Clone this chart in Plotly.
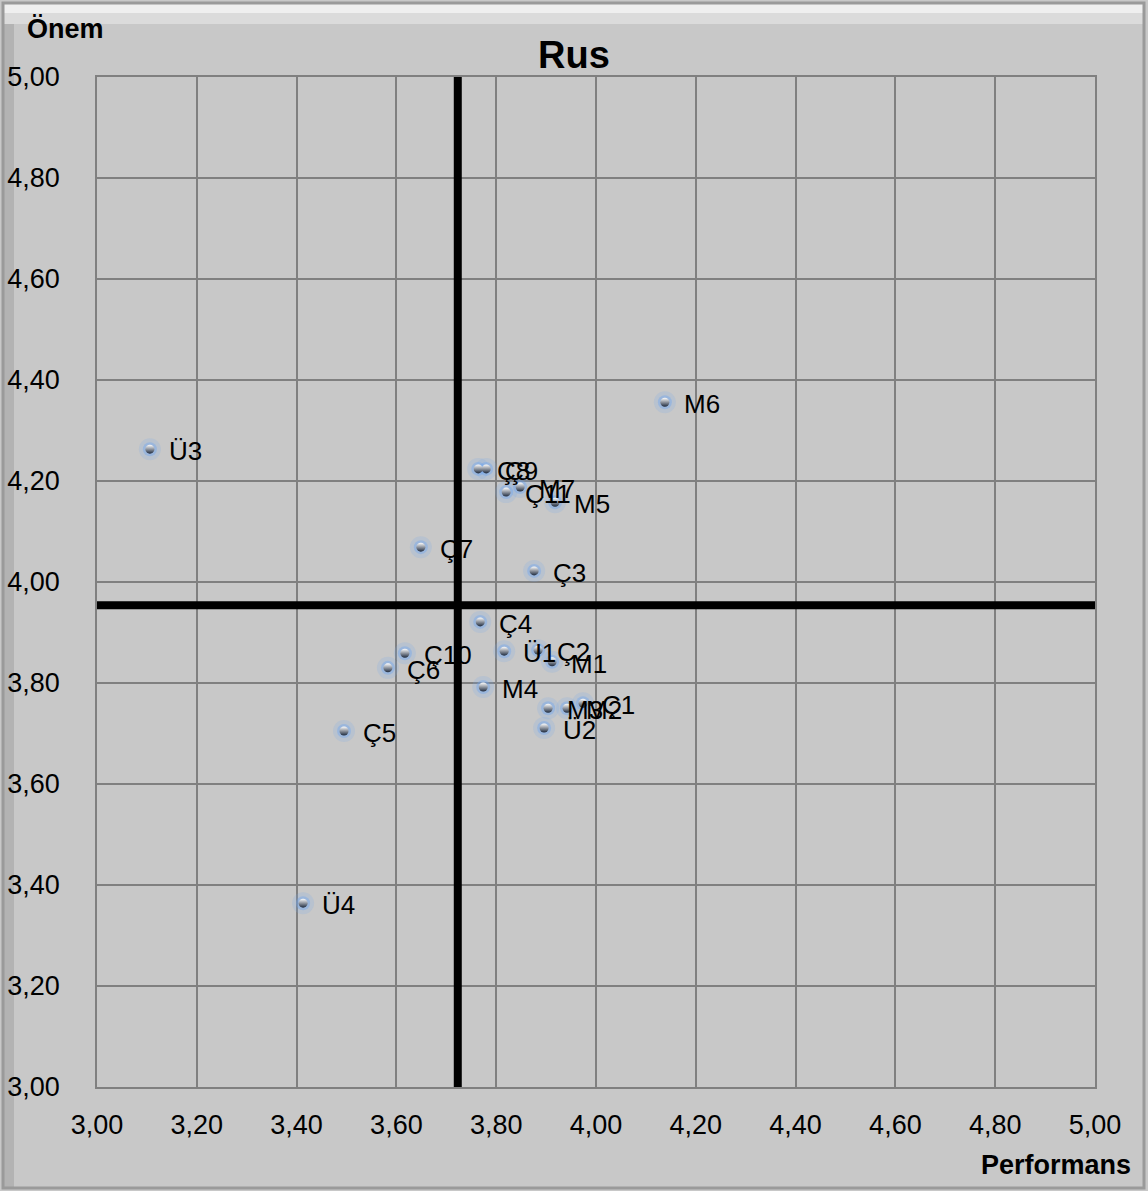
import plotly.graph_objects as go

# Data (Performans = x, Önem = y)
labels = ["Ü3", "M6", "Ç8", "Ç9", "Ç11", "M7", "M5", "Ç7", "Ç3", "Ç4", "Ü1", "Ç2", "M1",
          "Ç10", "Ç6", "M4", "M3", "M2", "Ç1", "Ü2", "Ç5", "Ü4"]
performans = [3.106, 4.138, 3.764, 3.780, 3.820, 3.848, 3.918, 3.649, 3.876, 3.768, 3.816, 3.884, 3.912,
              3.617, 3.583, 3.774, 3.904, 3.942, 3.974, 3.896, 3.495, 3.413]
onem = [4.263, 4.356, 4.224, 4.224, 4.178, 4.188, 4.158, 4.069, 4.022, 3.921, 3.863, 3.865, 3.842,
        3.859, 3.830, 3.792, 3.750, 3.750, 3.760, 3.711, 3.705, 3.364]
mean_performans = 3.723
mean_onem = 3.954

title_text = "Rus"
x_title = "Performans"
y_title = "Önem"
axis_min, axis_max, axis_step = 3.0, 5.0, 0.2

FONT = "Liberation Sans"
BG = "#c8c8c8"
GRID = "#808080"

fig = go.Figure()

# glow
fig.add_trace(go.Scatter(x=performans, y=onem, mode="markers", hoverinfo="skip",
                         marker=dict(size=22, color="rgba(120,170,235,0.20)", line=dict(width=0))))
fig.add_trace(go.Scatter(x=performans, y=onem, mode="markers", hoverinfo="skip",
                         marker=dict(size=14, color="rgba(110,165,240,0.40)", line=dict(width=0))))
# sphere dot
fig.add_trace(go.Scatter(x=performans, y=onem, mode="markers", text=labels,
                         marker=dict(size=9, color="#ffffff",
                                     gradient=dict(type="vertical", color="#1e2a3e"),
                                     line=dict(width=0))))

# reference lines at mean values
fig.add_shape(type="line", x0=mean_performans, x1=mean_performans, y0=axis_min, y1=axis_max,
              xref="x", yref="y", line=dict(color="black", width=8))
fig.add_shape(type="line", x0=axis_min, x1=axis_max, y0=mean_onem, y1=mean_onem,
              xref="x", yref="y", line=dict(color="black", width=8))

# outer frame with bevel highlights (paper coords relative to plot area)
PW, PH = 998.0, 1010.0
def px_x(p):
    return (p - 97) / PW
def px_y(p):
    return (1087 - p) / PH

fig.add_shape(type="rect", xref="paper", yref="paper", layer="below",
              x0=px_x(4), x1=px_x(1143), y0=px_y(4), y1=px_y(24),
              fillcolor="rgba(255,255,255,0.35)", line=dict(width=0))
fig.add_shape(type="rect", xref="paper", yref="paper", layer="below",
              x0=px_x(4), x1=px_x(1143), y0=px_y(4), y1=px_y(13),
              fillcolor="rgba(255,255,255,0.55)", line=dict(width=0))
fig.add_shape(type="rect", xref="paper", yref="paper", layer="below",
              x0=px_x(4), x1=px_x(14), y0=px_y(1187), y1=px_y(24),
              fillcolor="rgba(140,140,140,0.35)", line=dict(width=0))
fig.add_shape(type="rect", xref="paper", yref="paper", layer="below",
              x0=px_x(3), x1=px_x(1144), y0=px_y(1188), y1=px_y(3),
              line=dict(color="#9a9a9a", width=3))

annotations = []
for lab, xv, yv in zip(labels, performans, onem):
    annotations.append(dict(x=xv, y=yv, xref="x", yref="y", text=lab, showarrow=False,
                            xanchor="left", yanchor="middle", xshift=17, yshift=-2,
                            font=dict(family=FONT, size=26, color="black")))
annotations.append(dict(text="<b>" + y_title + "</b>", xref="paper", yref="paper",
                        x=px_x(25), y=px_y(12), xanchor="left", yanchor="top", showarrow=False,
                        font=dict(family=FONT, size=27, color="black")))
annotations.append(dict(text="<b>" + x_title + "</b>", xref="paper", yref="paper",
                        x=px_x(1133), y=px_y(1182), xanchor="right", yanchor="bottom", showarrow=False,
                        font=dict(family=FONT, size=27, color="black")))

ticks = [round(axis_min + i * axis_step, 2) for i in range(int(round((axis_max - axis_min) / axis_step)) + 1)]

fig.update_layout(
    width=1148, height=1191,
    margin=dict(l=97, r=53, t=77, b=104, autoexpand=False),
    paper_bgcolor=BG, plot_bgcolor=BG,
    separators=",.",
    showlegend=False,
    title=dict(text="<b>" + title_text + "</b>", x=0.5, xanchor="center", y=0.954, yanchor="middle",
               font=dict(family=FONT, size=38, color="black")),
    annotations=annotations,
    xaxis=dict(range=[axis_min, axis_max], tickvals=ticks, tickformat=".2f", automargin=False,
               showgrid=True, gridcolor=GRID, gridwidth=1.5, zeroline=False,
               showline=True, linecolor=GRID, linewidth=1.5, mirror=True,
               ticks="", ticklabelstandoff=13,
               tickfont=dict(family=FONT, size=27, color="black")),
    yaxis=dict(range=[axis_min, axis_max], tickvals=ticks, tickformat=".2f", automargin=False,
               showgrid=True, gridcolor=GRID, gridwidth=1.5, zeroline=False,
               showline=True, linecolor=GRID, linewidth=1.5, mirror=True,
               ticks="", ticklabelstandoff=30,
               tickfont=dict(family=FONT, size=27, color="black")),
)

fig.write_html("out.html", config={"displayModeBar": False},
               post_script="document.body.style.margin='0';document.body.style.background='#c8c8c8';")
